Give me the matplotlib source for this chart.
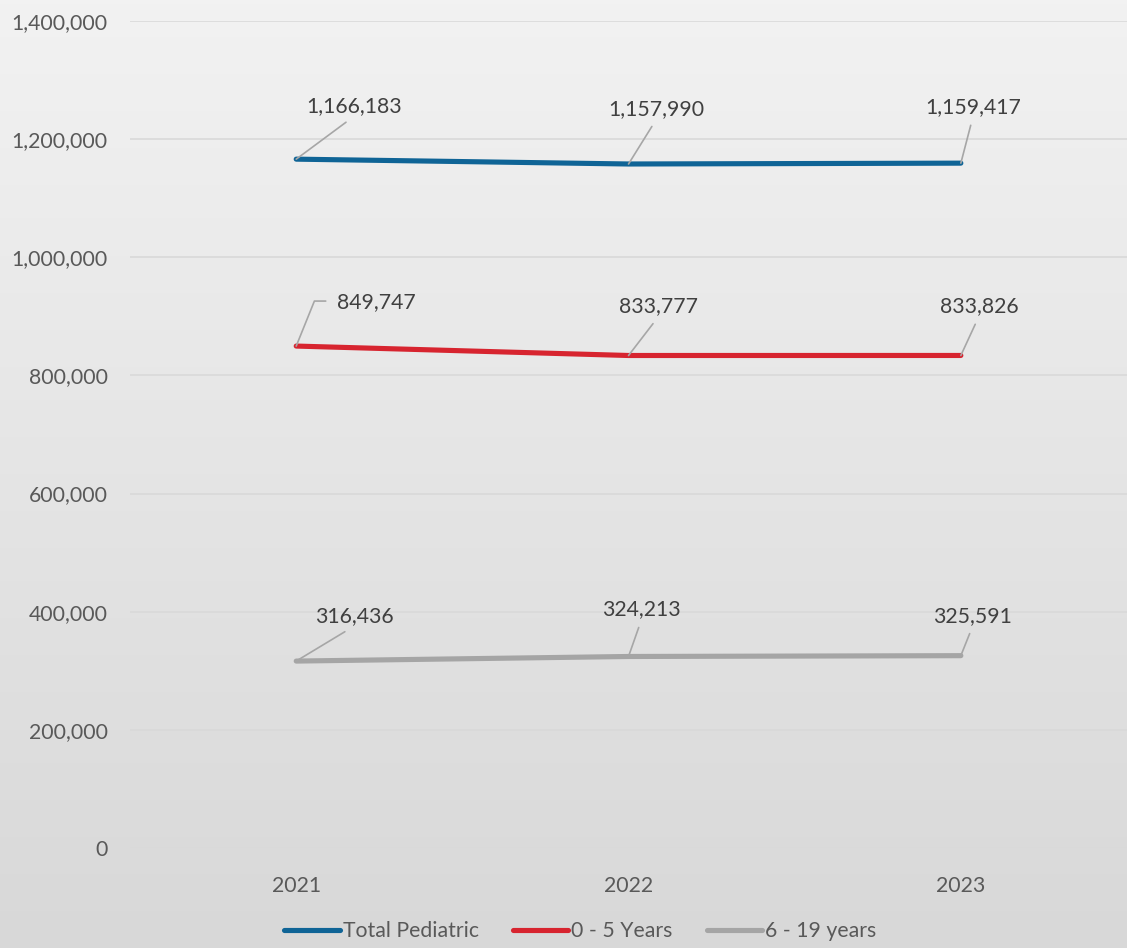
import numpy as np
import matplotlib.pyplot as plt
from matplotlib.ticker import FuncFormatter
from matplotlib.colors import LinearSegmentedColormap

plt.rcParams['font.family'] = ['Lato', 'DejaVu Sans']

years = ["2021", "2022", "2023"]
total_pediatric = [1166183, 1157990, 1159417]
age_0_5 = [849747, 833777, 833826]
age_6_19 = [316436, 324213, 325591]

series = [
    ("Total Pediatric", total_pediatric, "#0F6496"),
    ("0 - 5 Years", age_0_5, "#D7242F"),
    ("6 - 19 years", age_6_19, "#A5A5A5"),
]

# data label offsets in pixels from the point
label_off = {
    "Total Pediatric": [(58, 53), (28, 55), (12, 56)],
    "0 - 5 Years": [(80, 44), (30, 49), (18, 49)],
    "6 - 19 years": [(58, 45), (13, 47), (12, 40)],
}

fig = plt.figure(figsize=(11.27, 9.48), dpi=100)

# gradient background over whole figure
bg = fig.add_axes([0, 0, 1, 1], zorder=-10)
grad = np.linspace(0, 1, 256).reshape(-1, 1)
bg.imshow(grad, aspect="auto", extent=[0, 1, 0, 1],
          cmap=LinearSegmentedColormap.from_list("bg", ["#F2F2F2", "#D8D8D8"]))
bg.axis("off")

ax = fig.add_axes([0.1154, 0.1055, 0.8846, 0.8723])
ax.patch.set_alpha(0)
x = np.arange(len(years))

for name, vals, color in series:
    ax.plot(x, vals, color=color, lw=3.7, solid_capstyle="round", label=name, zorder=3)
    for i, v in enumerate(vals):
        # first red label uses an elbow leader to its left side
        if name == "0 - 5 Years" and i == 0:
            arrow = dict(arrowstyle="-", color="#A6A6A6", lw=1.2, shrinkA=6, shrinkB=0,
                         relpos=(0, 0.55), connectionstyle="angle,angleA=180,angleB=68,rad=0")
        else:
            arrow = dict(arrowstyle="-", color="#A6A6A6", lw=1.2, shrinkA=4, shrinkB=0,
                         relpos=(0.5, 0))
        ax.annotate(f"{v:,}", xy=(i, v), xytext=label_off[name][i], textcoords="offset pixels",
                    ha="center", va="center", fontsize=15.3, color="#404040",
                    arrowprops=arrow, zorder=4)

ax.set_xlim(-0.5, 2.5)
ax.set_ylim(0, 1400000)
ax.set_yticks(np.arange(0, 1400001, 200000))
ax.yaxis.set_major_formatter(FuncFormatter(lambda v, p: f"{int(v):,}"))
ax.set_xticks(x)
ax.set_xticklabels(years)
ax.tick_params(length=0, labelsize=15.3, labelcolor="#595959")
ax.tick_params(axis="y", pad=16)
ax.tick_params(axis="x", pad=20)
ax.grid(axis="y", color="#D9D9D9", lw=1.2)
ax.set_axisbelow(True)
for s in ax.spines.values():
    s.set_visible(False)

fig.legend(loc="lower center", bbox_to_anchor=(0.515, -0.013), ncol=3, frameon=False,
           fontsize=15.3, labelcolor="#595959", handlelength=2.6, handletextpad=0.15,
           columnspacing=1.6)

fig.savefig("out.png", dpi=100)
